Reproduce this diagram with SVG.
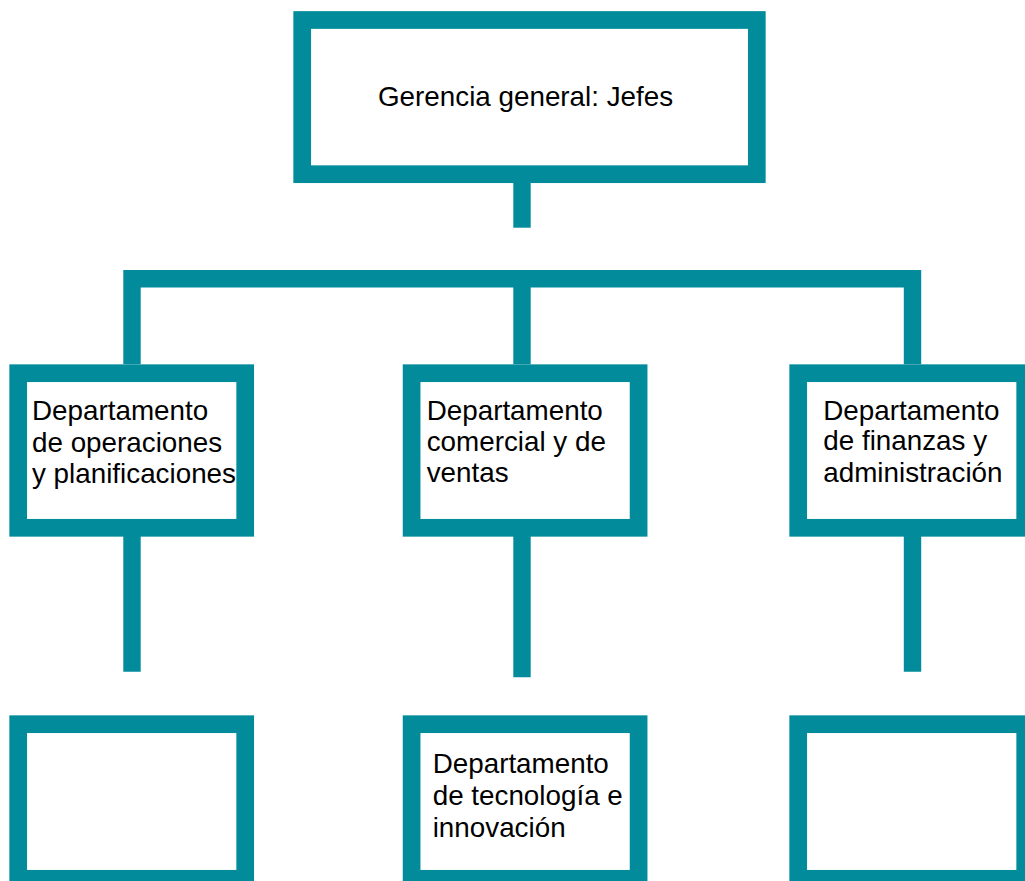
<svg xmlns="http://www.w3.org/2000/svg" width="1025" height="881" viewBox="0 0 1025 881">
<style>
.box{fill:#ffffff;stroke:#028B9B;stroke-width:17.7}
.con{fill:none;stroke:#028B9B;stroke-width:17.4;stroke-linejoin:miter;stroke-linecap:butt}
.t{font-family:"Liberation Sans",Arial,sans-serif;font-size:27.8px;fill:#000000}
</style>
<rect width="1025" height="881" fill="#ffffff"/>
<g id="connectors">
<path class="con" d="M522,183 V227.7"/>
<path class="con" d="M132,364.3 V278.7 H912.5 V364.3"/>
<path class="con" d="M522,278.7 V364.3"/>
<path class="con" d="M132,536 V671.7"/>
<path class="con" d="M522,536 V677.3"/>
<path class="con" d="M912.5,536 V671.7"/>
</g>
<g id="gerencia">
<rect class="box" x="302.2" y="20" width="454.6" height="154.2"/>
<text class="t" x="378" y="106">Gerencia general: Jefes</text>
</g>
<g id="operaciones">
<rect class="box" x="18.2" y="373.2" width="227" height="154.6"/>
<text class="t" x="32"><tspan x="32" y="420">Departamento</tspan><tspan x="32" y="451.5">de operaciones</tspan><tspan x="32" y="482.7">y planificaciones</tspan></text>
</g>
<g id="comercial">
<rect class="box" x="411.6" y="373.2" width="227" height="154.6"/>
<text class="t"><tspan x="426.7" y="420">Departamento</tspan><tspan x="426.7" y="451">comercial y de</tspan><tspan x="426.7" y="481.7">ventas</tspan></text>
</g>
<g id="finanzas">
<rect class="box" x="798.2" y="373.2" width="227" height="154.6"/>
<text class="t"><tspan x="823.3" y="419.5">Departamento</tspan><tspan x="823.3" y="450.3">de finanzas y</tspan><tspan x="823.3" y="481.7">administración</tspan></text>
</g>
<g id="vacio-izquierda">
<rect class="box" x="18.2" y="724.2" width="227" height="154.6"/>
</g>
<g id="tecnologia">
<rect class="box" x="411.6" y="724.2" width="227" height="154.6"/>
<text class="t"><tspan x="432.7" y="773.3">Departamento</tspan><tspan x="432.7" y="805">de tecnología e</tspan><tspan x="432.7" y="836.7">innovación</tspan></text>
</g>
<g id="vacio-derecha">
<rect class="box" x="798.2" y="724.2" width="227" height="154.6"/>
</g>
</svg>
